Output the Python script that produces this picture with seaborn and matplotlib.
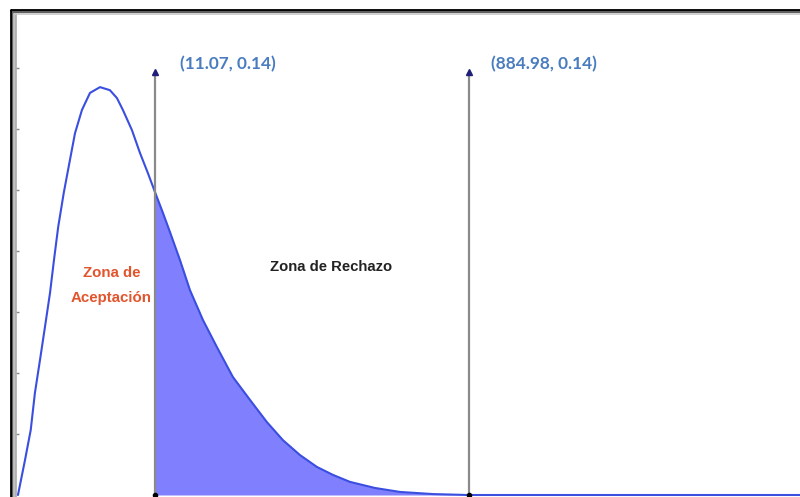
import numpy as np
import pandas as pd
import matplotlib
matplotlib.use('Agg')
import matplotlib.pyplot as plt
from matplotlib.lines import Line2D
import seaborn as sns

# curva (eje x en unidades de la grafica)
x_vals = [0.0, 0.57, 1.03, 1.37, 1.78, 2.18, 2.59, 2.91, 3.25, 3.70, 4.20, 4.61, 5.17, 5.82,
          6.63, 7.43, 8.00, 8.48, 9.21, 9.86, 10.50, 11.07, 11.72, 12.28, 13.09, 13.90, 14.95,
          16.08, 17.37, 18.75, 20.12, 21.41, 22.79, 24.16, 25.45, 26.83, 28.85, 30.87, 33.53,
          36.28, 63.2]
y_vals = [0.0, 0.0115, 0.0213, 0.0335, 0.0443, 0.0551, 0.0663, 0.0771, 0.0879, 0.0991, 0.1099,
          0.1187, 0.1263, 0.1319, 0.1338, 0.1328, 0.1302, 0.1263, 0.1197, 0.1122, 0.1056, 0.0994,
          0.0925, 0.0863, 0.0771, 0.0672, 0.0574, 0.0485, 0.0387, 0.0312, 0.0239, 0.0180, 0.0131,
          0.0092, 0.0066, 0.0043, 0.0023, 0.0010, 0.0003, 0.0, 0.0]

crit_pos = [11.07, 36.44]          # posicion de las lineas verticales
crit_labels = ['(11.07, 0.14)', '(884.98, 0.14)']
line_top = 0.1387
y_ticks = [0.02, 0.04, 0.06, 0.08, 0.10, 0.12, 0.14]

df = pd.DataFrame({'x': x_vals, 'y': y_vals})

sns.set_style('white')
plt.rcParams['font.family'] = ['Liberation Sans', 'DejaVu Sans']

fig = plt.figure(figsize=(8, 4.97), dpi=100)
ax = fig.add_axes([15 / 800, 0, 785 / 800, 487 / 497])

# zona de rechazo sombreada
rej = df[df['x'] >= crit_pos[0]]
ax.fill_between(rej['x'], rej['y'], 0, color='#8080ff', linewidth=0, zorder=1)

sns.lineplot(data=df, x='x', y='y', ax=ax, color='#3a4ee0', linewidth=1.5, zorder=3)

# lineas verticales con flecha
for xc in crit_pos:
    ax.plot([xc, xc], [0, line_top], color='#8a8a8a', linewidth=1.6, zorder=4)
    ax.plot(xc, line_top, marker='^', markersize=5, color='#1f1f7a', zorder=5)
    ax.plot(xc, 0, marker='o', markersize=3, color='black', zorder=5)

label_color = '#4a7dbf'
ax.text(crit_pos[0] + 2.0, 0.1415, crit_labels[0], color=label_color, fontsize=12.4,
        fontweight='bold', family=['Lato', 'DejaVu Sans'], va='center')
ax.text(crit_pos[1] + 1.8, 0.1415, crit_labels[1], color=label_color, fontsize=12.4,
        fontweight='bold', family=['Lato', 'DejaVu Sans'], va='center')

ax.text(7.55, 0.0728, 'Zona de', color='#e2542c', fontsize=10.8, fontweight='bold', ha='center', va='center')
ax.text(7.55, 0.0646, 'Aceptación', color='#e2542c', fontsize=10.8, fontweight='bold', ha='center', va='center')
ax.text(25.3, 0.0748, 'Zona de Rechazo', color='#222222', fontsize=10.7, fontweight='bold', ha='center', va='center')

ax.set_xlim(-0.24, 63.2)
ax.set_ylim(-0.00066, 0.1591)
ax.set_xticks([])
ax.set_yticks(y_ticks)
ax.set_yticklabels([])
ax.tick_params(axis='y', direction='in', length=3, width=1, color='#888888', left=True)
ax.set_xlabel('')
ax.set_ylabel('')
for s in ['right', 'bottom']:
    ax.spines[s].set_visible(False)
ax.spines['left'].set_color('#b0b0b0')
ax.spines['left'].set_linewidth(2)
ax.spines['top'].set_color('#b0b0b0')
ax.spines['top'].set_linewidth(2)

# marco exterior
W, H = 800, 497
for off, col, lw in [(0, 'black', 2.0), (2, '#606060', 1.5), (3.5, '#c8c8c8', 1.2)]:
    xp = 10.5 + off
    yp = 10.0 + off
    fig.add_artist(Line2D([xp / W, xp / W], [0, 1 - yp / H], color=col, linewidth=lw))
    fig.add_artist(Line2D([xp / W, 1], [1 - yp / H, 1 - yp / H], color=col, linewidth=lw))

fig.savefig('out.png', dpi=100, facecolor='white')
